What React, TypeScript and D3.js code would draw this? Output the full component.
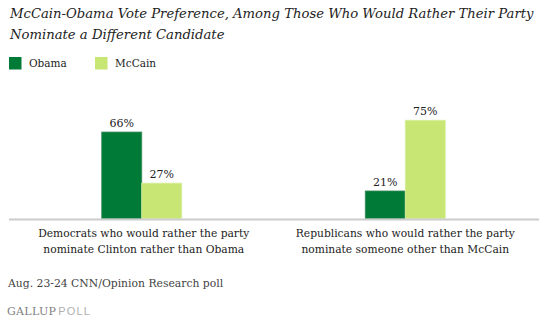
import React from "react";
import * as d3 from "d3";

const titleLines = [
  "McCain-Obama Vote Preference, Among Those Who Would Rather Their Party",
  "Nominate a Different Candidate",
];
const categories = ["dem", "rep"];
const categoryLabels = [
  ["Democrats who would rather the party", "nominate Clinton rather than Obama"],
  ["Republicans who would rather the party", "nominate someone other than McCain"],
];
const seriesNames = ["Obama", "McCain"];
const seriesColors = ["#007a37", "#c8e673"];
const obamaValues = [66, 21];
const mccainValues = [27, 75];
const footnote = "Aug. 23-24 CNN/Opinion Research poll";

const W = 545;
const H = 324;
const FONT = "'DejaVu Serif', Georgia, serif";

export default function App() {
  const x0 = d3.scaleBand<string>().domain(categories).range([10, 537]).paddingInner(0).paddingOuter(0);
  const x1 = d3.scaleBand<string>().domain(seriesNames).range([-40, 40]);
  const y = d3.scaleLinear().domain([0, 100]).range([218.5, 87.5]);
  const values = [obamaValues, mccainValues];

  return (
    <svg
      width={W}
      height={H}
      style={{ position: "absolute", left: 0, top: 0, background: "#fff" }}
    >
      {titleLines.map((t, i) => (
        <text key={i} x={10} y={18 + i * 21} fontFamily={FONT} fontStyle="italic" fontSize={13.2} fill="#222">
          {t}
        </text>
      ))}
      {seriesNames.map((s, i) => (
        <g key={s} transform={`translate(${9 + i * 86},57)`}>
          <rect width={12.5} height={12.5} fill={seriesColors[i]} />
          <text x={20} y={10} fontFamily={FONT} fontSize={10.5} fill="#222">{s}</text>
        </g>
      ))}
      {categories.map((c, ci) => {
        const cx = (x0(c) as number) + x0.bandwidth() / 2;
        return (
          <g key={c}>
            {seriesNames.map((s, si) => {
              const v = values[si][ci];
              const bx = cx + (x1(s) as number);
              return (
                <g key={s}>
                  <rect
                    x={bx}
                    y={y(v)}
                    width={x1.bandwidth()}
                    height={y(0) - y(v)}
                    fill={seriesColors[si]}
                    stroke={si === 0 ? "#3a8a5a" : "#d8efa0"}
                    strokeWidth={0.8}
                  />
                  <text
                    x={bx + x1.bandwidth() / 2}
                    y={y(v) - 5}
                    textAnchor="middle"
                    fontFamily={FONT}
                    fontSize={11}
                    fill="#222"
                  >
                    {v}%
                  </text>
                </g>
              );
            })}
            {categoryLabels[ci].map((l, li) => (
              <text key={li} x={cx + (ci === 0 ? 2 : 0)} y={237 + li * 15.5} textAnchor="middle" fontFamily={FONT} fontSize={10.7} fill="#222">
                {l}
              </text>
            ))}
          </g>
        );
      })}
      <line x1={9} x2={539} y1={219.5} y2={219.5} stroke="#cccccc" strokeWidth={2} />
      <text x={8} y={287} fontFamily={FONT} fontSize={10.8} fill="#444">{footnote}</text>
      <text x={7} y={315} fontSize={11} fill="#808080">
        <tspan fontFamily={FONT} letterSpacing={0.3}>GALLUP</tspan>
        <tspan fontFamily="'Liberation Sans', Arial, sans-serif" fill="#b0b0b0" dx={2} letterSpacing={1.2}>POLL</tspan>
      </text>
    </svg>
  );
}
